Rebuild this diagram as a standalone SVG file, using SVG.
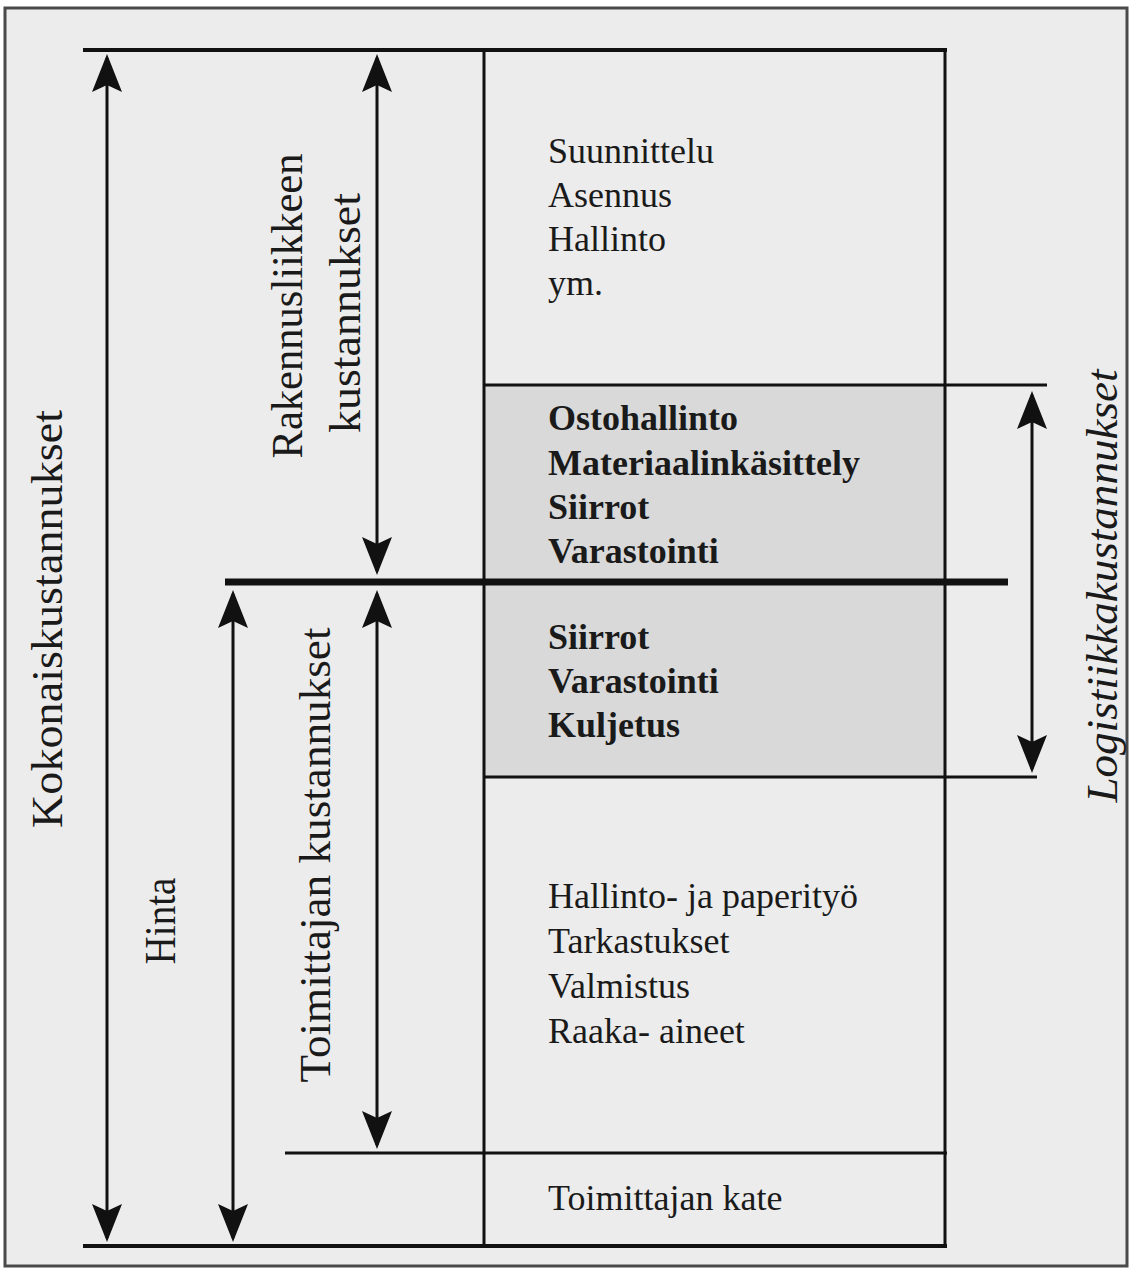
<svg xmlns="http://www.w3.org/2000/svg" width="1132" height="1272" viewBox="0 0 1132 1272">
  <defs>
    <marker id="ah" viewBox="0 0 38 30" refX="34" refY="15" markerWidth="38" markerHeight="30" markerUnits="userSpaceOnUse" orient="auto-start-reverse">
      <path d="M0,0 L38,15 L0,30 L7,15 Z" fill="#111"/>
    </marker>
    <style>
      .ln { stroke: #111; stroke-width: 3; fill: none; }
      .thick { stroke: #111; stroke-width: 4; fill: none; }
      .dim { stroke: #111; stroke-width: 3; fill: none; marker-start: url(#ah); marker-end: url(#ah); }
      .cell { font-family: "Liberation Serif", "Times New Roman", serif; font-size: 36px; fill: #1a1a1a; }
      .b { font-weight: bold; }
      .lab { font-family: "Liberation Serif", "Times New Roman", serif; font-size: 45px; fill: #1a1a1a; text-anchor: middle; }
      .it { font-style: italic; }
    </style>
  </defs>

  <rect x="0" y="0" width="1132" height="1272" fill="#ffffff"/>
  <rect id="page" x="5" y="8" width="1122" height="1258" fill="#ececec" stroke="#4a4a4a" stroke-width="3"/>

  <!-- cells of the cost column -->
  <g id="cell-rakennusliike">
    <text class="cell" x="548" y="163">Suunnittelu</text>
    <text class="cell" x="548" y="207">Asennus</text>
    <text class="cell" x="548" y="251">Hallinto</text>
    <text class="cell" x="548" y="295">ym.</text>
  </g>
  <g id="cell-logistiikka-rakennusliike">
    <rect x="484" y="385" width="461" height="197" fill="#d9d9d9"/>
    <text class="cell b" x="548" y="430">Ostohallinto</text>
    <text class="cell b" x="548" y="475">Materiaalinkäsittely</text>
    <text class="cell b" x="548" y="519">Siirrot</text>
    <text class="cell b" x="548" y="563">Varastointi</text>
  </g>
  <g id="cell-logistiikka-toimittaja">
    <rect x="484" y="583" width="461" height="194" fill="#d9d9d9"/>
    <text class="cell b" x="548" y="649">Siirrot</text>
    <text class="cell b" x="548" y="693">Varastointi</text>
    <text class="cell b" x="548" y="737">Kuljetus</text>
  </g>
  <g id="cell-toimittaja">
    <text class="cell" x="548" y="908">Hallinto- ja paperityö</text>
    <text class="cell" x="548" y="953">Tarkastukset</text>
    <text class="cell" x="548" y="998">Valmistus</text>
    <text class="cell" x="548" y="1043">Raaka- aineet</text>
  </g>
  <g id="cell-kate">
    <text class="cell" x="548" y="1210">Toimittajan kate</text>
  </g>

  <!-- divider lines -->
  <g id="dividers">
    <line class="thick" x1="83" y1="50" x2="947" y2="50"/>
    <line class="ln" x1="484" y1="48" x2="484" y2="1248"/>
    <line class="ln" x1="945" y1="48" x2="945" y2="1248"/>
    <line class="ln" x1="484" y1="385" x2="1047" y2="385"/>
    <line x1="225" y1="582" x2="1008" y2="582" stroke="#111" stroke-width="7"/>
    <line class="ln" x1="484" y1="777" x2="1037" y2="777"/>
    <line class="ln" x1="285" y1="1153" x2="947" y2="1153"/>
    <line class="thick" x1="83" y1="1246" x2="947" y2="1246"/>
  </g>

  <!-- dimension arrows -->
  <g id="connectors">
    <line class="dim" x1="107" y1="58" x2="107" y2="1238"/>
    <line class="dim" x1="377" y1="58" x2="377" y2="571"/>
    <line class="dim" x1="233" y1="594" x2="233" y2="1238"/>
    <line class="dim" x1="377" y1="594" x2="377" y2="1145"/>
    <line class="dim" x1="1032" y1="395" x2="1032" y2="769"/>
  </g>

  <!-- rotated labels -->
  <g id="label-kokonais">
    <text class="lab" transform="translate(62,619) rotate(-90)" textLength="418" lengthAdjust="spacingAndGlyphs">Kokonaiskustannukset</text>
  </g>
  <g id="label-hinta">
    <text class="lab" transform="translate(175,921) rotate(-90)" textLength="87" lengthAdjust="spacingAndGlyphs">Hinta</text>
  </g>
  <g id="label-rakennusliike">
    <text class="lab" transform="translate(302,306) rotate(-90)" textLength="305" lengthAdjust="spacingAndGlyphs">Rakennusliikkeen</text>
    <text class="lab" transform="translate(360,313) rotate(-90)" textLength="240" lengthAdjust="spacingAndGlyphs">kustannukset</text>
  </g>
  <g id="label-toimittaja">
    <text class="lab" transform="translate(330,855) rotate(-90)" textLength="455" lengthAdjust="spacingAndGlyphs">Toimittajan kustannukset</text>
  </g>
  <g id="label-logistiikka">
    <text class="lab it" transform="translate(1117,586) rotate(-90)" textLength="433" lengthAdjust="spacingAndGlyphs">Logistiikkakustannukset</text>
  </g>
</svg>
